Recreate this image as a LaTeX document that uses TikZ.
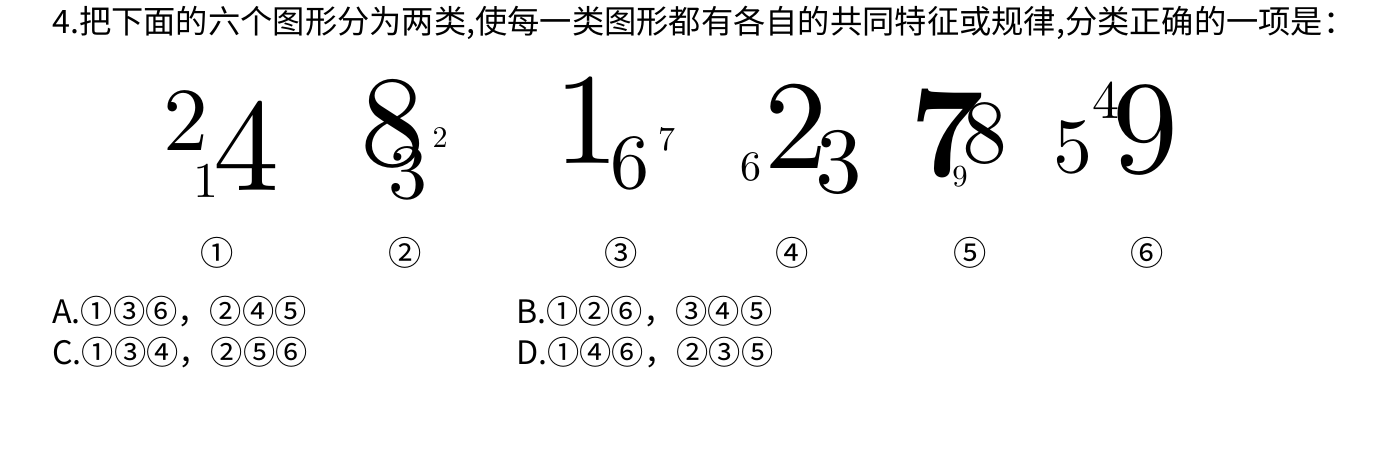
\documentclass[tikz,border=0pt]{standalone}
\usepackage{fontspec}
\newfontfamily\cjk{Noto Sans CJK SC}
\newfontfamily\digits{lmroman10-regular}[Extension=.otf, BoldFont=lmroman10-bold]

\tikzset{
  num/.style={inner sep=0pt, font=\digits\fontsize{#1}{#1}\selectfont},
  bnum/.style={inner sep=0pt, font=\digits\bfseries\fontsize{#1}{#1}\selectfont},
  tag/.style={inner sep=0pt, font=\cjk\fontsize{25pt}{25pt}\selectfont},
  txt/.style={inner sep=0pt, anchor=west, font=\cjk\fontsize{24.2pt}{24.2pt}\selectfont},
  opt/.style={inner sep=0pt, anchor=west, font=\cjk\fontsize{24.2pt}{24.2pt}\selectfont},
}

\begin{document}
\begin{tikzpicture}[x=0.75pt,y=-0.75pt]
    \useasboundingbox (0,0) rectangle (1384,450);

    % Question
    \node[txt] (title) at (52,23) {4.把下面的六个图形分为两类,使每一类图形都有各自的共同特征或规律,分类正确的一项是：};

    % Figure 1
    \node[num=67.5pt] (f1a) at (185.5,121) {2};
    \node[num=37.5pt] (f1b) at (206,181) {1};
    \node[num=99pt] (f1c) at (246.5,145.5) {4};

    % Figure 2
    \node[num=97pt] (f2a) at (392.5,123.5) {8};
    \node[num=58.5pt] (f2b) at (408,173) {3};
    \node[num=22.5pt] (f2c) at (440,137.5) {2};

    % Figure 3
    \node[num=97.5pt] (f3a) at (586.5,120) {1};
    \node[num=58.5pt] (f3b) at (630,163) {6};
    \node[num=25.5pt] (f3c) at (666.5,139) {7};

    % Figure 4
    \node[num=31.5pt] (f4a) at (751,166.5) {6};
    \node[num=95pt] (f4b) at (796,126) {2};
    \node[num=70pt] (f4c) at (838.5,162) {3};

    % Figure 5
    \node[bnum=97pt] (f5a) at (946.5,133.5) {7};
    \node[num=23pt] (f5b) at (960,177) {9};
    \node[num=67.5pt] (f5c) at (985,134) {8};

    % Figure 6
    \node[num=58.5pt] (f6a) at (1072.5,147) {5};
    \node[num=40.5pt] (f6b) at (1105.5,100.5) {4};
    \node[num=99pt] (f6c) at (1145,129.5) {9};

    % Labels
    \node[tag] (t1) at (217,253) {①};
    \node[tag] (t2) at (405,253) {②};
    \node[tag] (t3) at (621,253) {③};
    \node[tag] (t4) at (792,253) {④};
    \node[tag] (t5) at (970,253) {⑤};
    \node[tag] (t6) at (1147,253) {⑥};

    % Options
    \node[opt] (optA) at (52,312) {A.①③⑥，②④⑤};
    \node[opt] (optB) at (516,312) {B.①②⑥，③④⑤};
    \node[opt] (optC) at (52,353) {C.①③④，②⑤⑥};
    \node[opt] (optD) at (516,353) {D.①④⑥，②③⑤};
\end{tikzpicture}
\end{document}
